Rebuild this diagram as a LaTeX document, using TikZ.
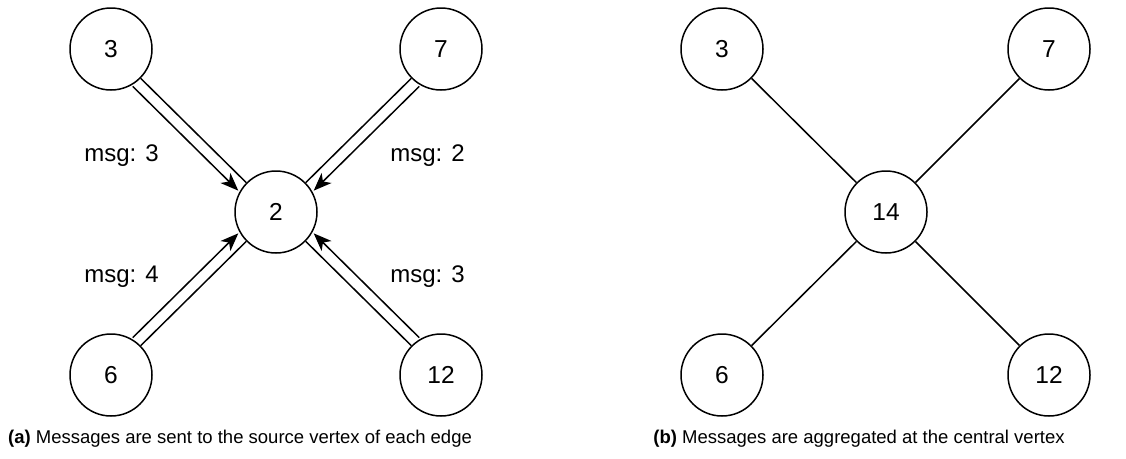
\documentclass[tikz,border=0pt]{standalone}
\usepackage{fontspec}
\setmainfont{Liberation Sans}
\usetikzlibrary{arrows.meta,positioning,calc}

\tikzset{
  vertex/.style={draw,circle,line width=1.5pt,minimum size=82pt,inner sep=0pt,
    font=\fontsize{24.5}{28}\selectfont},
  edge/.style={line width=1.5pt},
  msgarrow/.style={line width=1.5pt,-{Stealth[length=18pt,width=14pt,inset=5pt]}},
  msglabel/.style={font=\fontsize{24}{28}\selectfont,anchor=base},
  caption/.style={font=\fontsize{18.5}{22}\selectfont,anchor=base}
}

\begin{document}
\begin{tikzpicture}[x=1pt,y=-1pt]
  \useasboundingbox (0,0) rectangle (1126,458);

  % (a) messages go to the centre
  \node[vertex] (a2) at (276,212) {2};
  \foreach \name/\x/\y in {3/111/49,7/441/49,6/111/375,12/441/375}
    \node[vertex] (a\name) at (\x,\y) {\name};
  \foreach \name in {3,7,6,12}
    \draw[edge] (a\name) -- (a2);
  \draw[msgarrow,transform canvas={xshift=-8pt,yshift=-8pt}] (a3) -- (a2);
  \draw[msgarrow,transform canvas={xshift=8pt,yshift=-8pt}] (a7) -- (a2);
  \draw[msgarrow,transform canvas={xshift=-8pt,yshift=8pt}] (a6) -- (a2);
  \draw[msgarrow,transform canvas={xshift=8pt,yshift=8pt}] (a12) -- (a2);
  \node[msglabel] (m3) at (121.5,161) {msg: 3};
  \node[msglabel] (m7) at (427.5,161) {msg: 2};
  \node[msglabel] (m6) at (121.5,282) {msg: 4};
  \node[msglabel] (m12) at (427.5,282) {msg: 3};
  \node[caption] (capa) at (240,443) {\textbf{(a)} Messages are sent to the source vertex of each edge};

  % (b) aggregated value
  \node[vertex] (b14) at (886,212) {14};
  \foreach \name/\x/\y in {3/722/49,7/1049/49,6/722/375,12/1049/375}
    \node[vertex] (b\name) at (\x,\y) {\name};
  \foreach \name in {3,7,6,12}
    \draw[edge] (b\name) -- (b14);
  \node[caption] (capb) at (859,443) {\textbf{(b)} Messages are aggregated at the central vertex};
\end{tikzpicture}
\end{document}
